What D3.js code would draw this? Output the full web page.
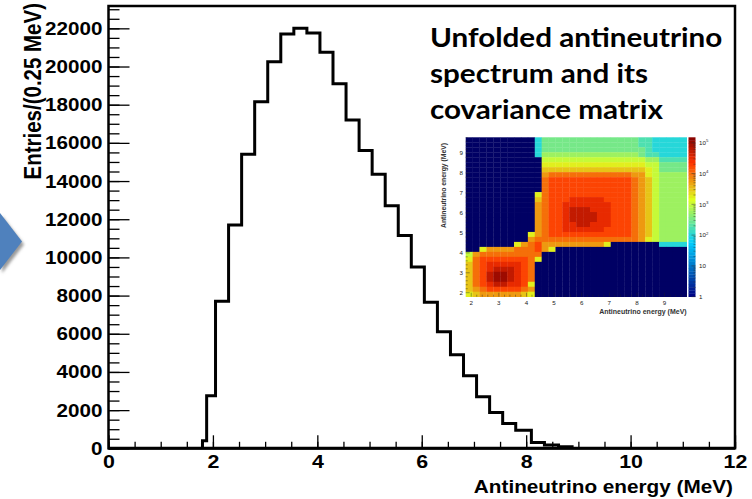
<!DOCTYPE html>
<html><head><meta charset="utf-8">
<script src="https://cdn.jsdelivr.net/npm/d3@7"></script>
<style>body{margin:0;background:#fff}svg{display:block}</style>
</head><body><svg id="c" width="752" height="499"></svg>
<script>
// ---------------- data ----------------
const binEdges = [1.8, 1.88, 2.05, 2.3, 2.55, 2.8, 3.05, 3.3, 3.55, 3.8, 4.05, 4.3, 4.55, 4.8, 5.05,
  5.3, 5.55, 5.8, 6.05, 6.3, 6.55, 6.8, 7.05, 7.3, 7.55, 7.8, 8.1, 8.35, 8.62, 8.88];
const counts = [400, 2750, 7700, 11700, 15400, 18150, 20250, 21700, 22000, 21750, 20750, 19100,
  17200, 15600, 14350, 12700, 11150, 9500, 7650, 6100, 4900, 3800, 2700, 1870, 1300, 950, 310, 170, 85];
const xTickValues = [0, 2, 4, 6, 8, 10, 12];
const yTickValues = [0, 2000, 4000, 6000, 8000, 10000, 12000, 14000, 16000, 18000, 20000, 22000];
const xTitle = "Antineutrino energy (MeV)";
const yTitle = "Entries/(0.25 MeV)";
const titleLines = ["Unfolded antineutrino", "spectrum and its", "covariance matrix"];

// covariance matrix (inset): bin edges and log10 levels, code char -> 10^(k/4), '.' = empty
const covBins = [1.8, 2.05, 2.3, 2.55, 2.8, 3.05, 3.3, 3.55, 3.8, 4.05, 4.3, 4.55, 4.8, 5.05, 5.3,
  5.55, 5.8, 6.05, 6.3, 6.55, 6.8, 7.05, 7.3, 7.55, 7.8, 8.05, 8.3, 8.55, 8.8, 9.05, 9.3, 9.55, 9.8];
const covCodeChars = "0123456789abcdefghijk";
// each row: [bins 1.8-4.3 | 4.3-4.55 | 4.55-8.05 | 8.05-8.8 | 8.8-9.8], top row (9.55-9.8) first
const covRows = [
  ["..........", "8", "aaaaaaaaaaaaaa", "998", "8888"],
  ["..........", "8", "aaaaaaaaaaaaaa", "998", "8888"],
  ["..........", "8", "aaaaaaaaaaaaaa", "a98", "8888"],
  ["..........", "8", "bbbbbbbbbbbbbb", "a99", "8888"],
  ["..........", ".", "cccccccccccccc", "cbb", "9999"],
  ["..........", ".", "dddddddddddddd", "dcc", "aaaa"],
  ["..........", ".", "eeeeeeeeeeeeee", "edc", "aaaa"],
  ["..........", ".", "fggggggggggggf", "fdc", "bbbb"],
  ["..........", ".", "ghhhhhhhhhhhhg", "fec", "bbbb"],
  ["..........", ".", "ghhhhhhhhhhhhg", "fec", "bbbb"],
  ["..........", ".", "ghhhhhhhhhhhhg", "fec", "bbbb"],
  ["..........", "d", "ghhhhhhhhhhhhg", "fec", "bbbb"],
  ["..........", "e", "ghhhiiiiihhhhg", "fec", "bbbb"],
  ["..........", "f", "ghhiiiiiiihhhg", "fec", "bbbb"],
  ["..........", "f", "ghhijjjiiihhhg", "fec", "bbbb"],
  ["..........", "f", "ghhijjjjiihhhg", "fec", "bbbb"],
  ["..........", "f", "ghhijjjjiihhhg", "fec", "bbbb"],
  ["..........", "f", "ghhiijjiiihhhg", "fec", "bbbb"],
  ["..........", "f", "ghhiiiiiihhhhg", "fec", "bbbb"],
  [".........d", "f", "ghhhhhhhhhhhhg", "fec", "bbbb"],
  [".........f", "g", "gggggggggggggg", "fdc", "bbbb"],
  [".......dfg", "h", "fffffffffd....", "...", "8888"],
  ["..dffffggg", "h", "fd............", "...", "...."],
  ["cfgggggggg", "g", "..............", "...", "...."],
  ["dghhhhhhhg", "d", "..............", "...", "...."],
  ["eghiiiiihg", ".", "..............", "...", "...."],
  ["eghijjjihg", ".", "..............", "...", "...."],
  ["eghjkkjihg", ".", "..............", "...", "...."],
  ["eghjkkjihg", ".", "..............", "...", "...."],
  ["eghijjiihd", ".", "..............", "...", "...."],
  ["efghhhhhgf", ".", "..............", "...", "...."],
  ["deffffffed", ".", "..............", "...", "...."]
];
const zMax = 1.5e5;
const colorbarTicks = [1, 10, 100, 1000, 10000, 100000];
const insetTicks = [2, 3, 4, 5, 6, 7, 8, 9];

// ---------------- drawing ----------------
const svg = d3.select("#c");
const FONT = "'Liberation Sans', Arial, Helvetica, sans-serif";

// blue arrow decoration with shadow
const defs = svg.append("defs");
defs.append("filter").attr("id", "sh").attr("x", "-50%").attr("y", "-50%").attr("width", "200%").attr("height", "200%")
  .append("feGaussianBlur").attr("stdDeviation", 1.8);
const arrowPts = [[0, 213], [22, 241.5], [0, 270]];
svg.append("polygon").attr("points", arrowPts.map(p => [p[0] + 2, p[1] + 3].join(",")).join(" "))
  .attr("fill", "#9a9a9a").attr("filter", "url(#sh)");
svg.append("polygon").attr("points", arrowPts.map(p => p.join(",")).join(" ")).attr("fill", "#4f81bd");

// main scales
const x = d3.scaleLinear().domain([0, 12]).range([108.5, 735]);
const y = d3.scaleLinear().domain([0, 23170]).range([448.3, 6]);

// axes (ROOT style ticks inside the frame)
function styleAxis(g) { g.select(".domain").remove(); g.selectAll("line").attr("stroke", "#000").attr("stroke-width", 1.3); }
svg.append("g").attr("transform", `translate(${x(0)},0)`)
  .call(d3.axisLeft(y).tickValues(d3.range(0, 23001, 500)).tickSize(-11).tickFormat(""))
  .call(styleAxis);
const gy = svg.append("g").attr("transform", `translate(${x(0)},0)`)
  .call(d3.axisLeft(y).tickValues(yTickValues).tickSizeInner(-21).tickSizeOuter(0).tickPadding(5.5).tickFormat(d3.format("d")))
  .call(styleAxis);
gy.selectAll("text").attr("font-family", FONT).attr("font-weight", "bold").attr("font-size", 18.6)
  .attr("fill", "#000").attr("transform", "scale(1.11,1)");

svg.append("g").attr("transform", `translate(0,${y(0)})`)
  .call(d3.axisBottom(x).tickValues(d3.range(0, 12.01, 0.5)).tickSize(-6.5).tickFormat(""))
  .call(styleAxis);
const gx = svg.append("g").attr("transform", `translate(0,${y(0)})`)
  .call(d3.axisBottom(x).tickValues(xTickValues).tickSizeInner(-13).tickSizeOuter(0).tickPadding(6.5).tickFormat(d3.format("d")))
  .call(styleAxis);
gx.selectAll("text").attr("font-family", FONT).attr("font-weight", "bold").attr("font-size", 18.6)
  .attr("fill", "#000").attr("transform", "scale(1.15,1)");

// frame
svg.append("rect").attr("x", x(0)).attr("y", y.range()[1]).attr("width", x(12) - x(0)).attr("height", y(0) - y.range()[1])
  .attr("fill", "none").attr("stroke", "#000").attr("stroke-width", 2.5);
svg.append("line").attr("x1", x(0)).attr("x2", x(12)).attr("y1", y(0)).attr("y2", y(0)).attr("stroke", "#000").attr("stroke-width", 3);

// histogram
const pts = [[binEdges[0], 0]];
counts.forEach((c, i) => { pts.push([binEdges[i], c]); pts.push([binEdges[i + 1], c]); });
pts.push([binEdges[binEdges.length - 1], 0]);
svg.append("path").attr("d", d3.line().x(d => x(d[0])).y(d => y(d[1]))(pts))
  .attr("fill", "none").attr("stroke", "#000").attr("stroke-width", 3).attr("stroke-linejoin", "miter");

// axis titles
svg.append("text").attr("transform", "translate(733,493) scale(1.14,1)").attr("text-anchor", "end")
  .attr("font-family", FONT).attr("font-weight", "bold").attr("font-size", 18.2).text(xTitle);
svg.append("text").attr("transform", "translate(40.7,3) rotate(-90) scale(1,1.2)").attr("text-anchor", "end")
  .attr("font-family", FONT).attr("font-weight", "bold").attr("font-size", 20.5).text(yTitle);

// title block
const titleY = [46.7, 83, 119.3];
titleLines.forEach((t, i) => {
  svg.append("text").attr("transform", `translate(430,${titleY[i]}) scale(1.14,1)`).attr("font-family", "Lato, 'Open Sans', sans-serif")
    .attr("font-weight", "bold").attr("font-size", 26).attr("fill", "#000").text(t);
});

// ---------------- inset: covariance matrix ----------------
const hx = d3.scaleLinear().domain([1.8, 9.8]).range([465.7, 686.7]);
const hy = d3.scaleLinear().domain([1.8, 9.8]).range([296.7, 137.3]);
const stops = [0, 0.34, 0.61, 0.84, 1.0];
const rgb = [[0, 0, 130], [0, 207, 255], [222, 255, 31], [255, 51, 0], [130, 0, 0]];
const palR = d3.scaleLinear().domain(stops).range(rgb.map(c => c[0])).clamp(true);
const palG = d3.scaleLinear().domain(stops).range(rgb.map(c => c[1])).clamp(true);
const palB = d3.scaleLinear().domain(stops).range(rgb.map(c => c[2])).clamp(true);
const zT = d3.scaleLog().domain([1, zMax]).range([0, 1]).clamp(true);
const pal = v => `rgb(${Math.round(palR(zT(v)))},${Math.round(palG(zT(v)))},${Math.round(palB(zT(v)))})`;
const navy = "rgb(0,0,100)";

const cells = [];
covRows.forEach((parts, r) => {
  const row = parts.join("");
  const j = covRows.length - 1 - r;
  for (let i = 0; i < covBins.length - 1; i++) {
    const ch = row[i] || ".";
    const k = covCodeChars.indexOf(ch);
    cells.push({ i, j, v: k < 0 ? null : Math.pow(10, k / 4) });
  }
});
const gi = svg.append("g");
gi.selectAll("rect.cell").data(cells).join("rect").attr("class", "cell")
  .attr("x", d => hx(covBins[d.i])).attr("y", d => hy(covBins[d.j + 1]))
  .attr("width", d => hx(covBins[d.i + 1]) - hx(covBins[d.i]) + 0.3)
  .attr("height", d => hy(covBins[d.j]) - hy(covBins[d.j + 1]) + 0.3)
  .attr("fill", d => d.v == null ? navy : pal(d.v));

// inset ticks
const tkStyle = s => s.attr("stroke", "#222").attr("stroke-width", 0.6).attr("opacity", 0.7);
const minorT = d3.range(2, 9.81, 0.2);
gi.selectAll("line.xt").data(minorT).join("line").attr("class", "xt")
  .attr("x1", d => hx(d)).attr("x2", d => hx(d)).attr("y1", hy(1.8)).attr("y2", d => hy(1.8) - (Math.abs(d - Math.round(d)) < 1e-6 ? 4 : 2)).call(tkStyle);
gi.selectAll("line.yt").data(minorT).join("line").attr("class", "yt")
  .attr("y1", d => hy(d)).attr("y2", d => hy(d)).attr("x1", hx(1.8)).attr("x2", d => hx(1.8) + (Math.abs(d - Math.round(d)) < 1e-6 ? 4 : 2)).call(tkStyle);

gi.selectAll("text.xl").data(insetTicks).join("text").attr("class", "xl")
  .attr("x", d => hx(d)).attr("y", 305).attr("text-anchor", "middle")
  .attr("font-family", FONT).attr("font-size", 6.2).attr("fill", "#222").text(d => d);
gi.selectAll("text.yl").data(insetTicks).join("text").attr("class", "yl")
  .attr("x", 463).attr("y", d => hy(d) + 2.2).attr("text-anchor", "end")
  .attr("font-family", FONT).attr("font-size", 6.2).attr("fill", "#222").text(d => d);
gi.append("text").attr("x", 686.7).attr("y", 313.5).attr("text-anchor", "end")
  .attr("font-family", FONT).attr("font-weight", "bold").attr("font-size", 7).attr("fill", "#333").text(xTitle);
gi.append("text").attr("transform", "translate(446,143) rotate(-90)").attr("text-anchor", "end")
  .attr("font-family", FONT).attr("font-weight", "bold").attr("font-size", 6.8).attr("fill", "#333").text(xTitle);

// colour bar
const cz = d3.scaleLog().domain([1, zMax]).range([296.7, 137.3]);
const nLev = 50;
const levs = d3.range(nLev).map(k => Math.pow(zMax, k / nLev));
gi.selectAll("rect.cb").data(levs).join("rect").attr("class", "cb")
  .attr("x", 688.5).attr("width", 7)
  .attr("y", d => cz(d * Math.pow(zMax, 1 / nLev))).attr("height", d => cz(d) - cz(d * Math.pow(zMax, 1 / nLev)) + 0.3)
  .attr("fill", d => pal(d * Math.pow(zMax, 0.5 / nLev)));
const cbMinor = [];
for (let e = 0; e < 6; e++) for (let m = 1; m < 10; m++) { const v = m * Math.pow(10, e); if (v <= zMax) cbMinor.push({ v, major: m === 1 }); }
gi.selectAll("line.cbt").data(cbMinor).join("line").attr("class", "cbt")
  .attr("x1", 695.5).attr("x2", d => 695.5 - (d.major ? 4 : 2)).attr("y1", d => cz(d.v)).attr("y2", d => cz(d.v))
  .attr("stroke", "#333").attr("stroke-width", 0.5);
const cbl = gi.selectAll("text.cbl").data(colorbarTicks).join("text").attr("class", "cbl")
  .attr("x", 699).attr("y", d => cz(d) + 2.2).attr("font-family", FONT).attr("font-size", 6.2).attr("fill", "#222");
cbl.each(function (d) {
  const t = d3.select(this);
  const e = Math.round(Math.log10(d));
  if (e === 0) t.text("1");
  else if (e === 1) t.text("10");
  else { t.append("tspan").text("10"); t.append("tspan").attr("dy", -2.5).attr("font-size", 4.3).text(e); }
});
</script></body></html>
